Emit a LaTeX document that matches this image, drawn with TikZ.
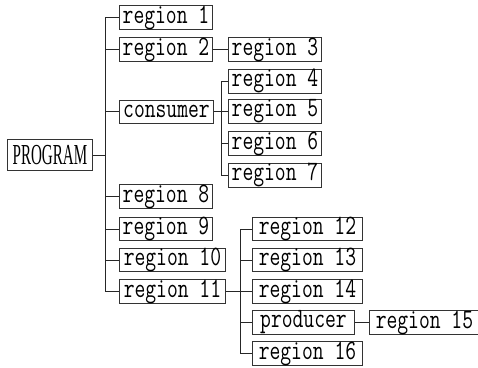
\documentclass[tikz,border=0pt]{standalone}
\usepackage{fontspec}
\newfontfamily\regfont{Latin Modern Mono}[FakeStretch=0.75]
\newfontfamily\progfont{Liberation Serif}[FakeStretch=0.52]
\begin{document}
\begin{tikzpicture}[x=1pt,y=-1pt,
  box/.style={draw=black!80,line width=0.9pt,inner sep=0pt,minimum height=23pt,anchor=west,
    font=\fontsize{28}{28}\selectfont\regfont},
  conn/.style={draw=black!85,line width=0.8pt}]
\useasboundingbox (0,0) rectangle (478,367);
\node[draw=black!80,line width=0.9pt,inner sep=0pt,minimum width=85pt,minimum height=31pt,anchor=west,
  font=\fontsize{29}{29}\selectfont\progfont] (prog) at (7,155) {PROGRAM};
% level 1
\node[box,minimum width=93pt]  (r1)  at (119,17.5)  {region 1};
\node[box,minimum width=93pt]  (r2)  at (119,49.5)  {region 2};
\node[box,minimum width=94pt]  (cons) at (119,111.5) {consumer};
\node[box,minimum width=93pt]  (r8)  at (119,196.5) {region 8};
\node[box,minimum width=93pt]  (r9)  at (119,229)   {region 9};
\node[box,minimum width=106pt] (r10) at (119,260)   {region 10};
\node[box,minimum width=106pt] (r11) at (119,291.5) {region 11};
% level 2
\node[box,minimum width=93pt]  (r3)  at (228,49.5)  {region 3};
\node[box,minimum width=93pt]  (r4)  at (228,81)    {region 4};
\node[box,minimum width=93pt]  (r5)  at (228,111.5) {region 5};
\node[box,minimum width=93pt]  (r6)  at (228,143.5) {region 6};
\node[box,minimum width=93pt]  (r7)  at (228,175)   {region 7};
\node[box,minimum width=110pt] (r12) at (252,229)   {region 12};
\node[box,minimum width=110pt] (r13) at (252,260)   {region 13};
\node[box,minimum width=110pt] (r14) at (252,291.5) {region 14};
\node[box,minimum width=102pt] (prod) at (252,322.5) {producer};
\node[box,minimum width=110pt] (r16) at (252,353.5) {region 16};
\node[box,minimum width=110pt] (r15) at (369,322.5) {region 15};
% trunks
\coordinate (T) at (105,155);
\coordinate (C) at (221,111.5);
\coordinate (P) at (240,291.5);
\draw[conn] (prog.east) -- (T);
\draw[conn] (T |- r1.west) -- (T |- r11.west);
\foreach \n in {r1,r2,cons,r8,r9,r10,r11} \draw[conn] (T |- \n.west) -- (\n.west);
\draw[conn] (r2.east) -- (r3.west);
\draw[conn] (cons.east) -- (C);
\draw[conn] (C |- r4.west) -- (C |- r7.west);
\foreach \n in {r4,r5,r6,r7} \draw[conn] (C |- \n.west) -- (\n.west);
\draw[conn] (r11.east) -- (P);
\draw[conn] (P |- r12.west) -- (P |- r16.west);
\foreach \n in {r12,r13,r14,prod,r16} \draw[conn] (P |- \n.west) -- (\n.west);
\draw[conn] (prod.east) -- (r15.west);
\end{tikzpicture}
\end{document}
